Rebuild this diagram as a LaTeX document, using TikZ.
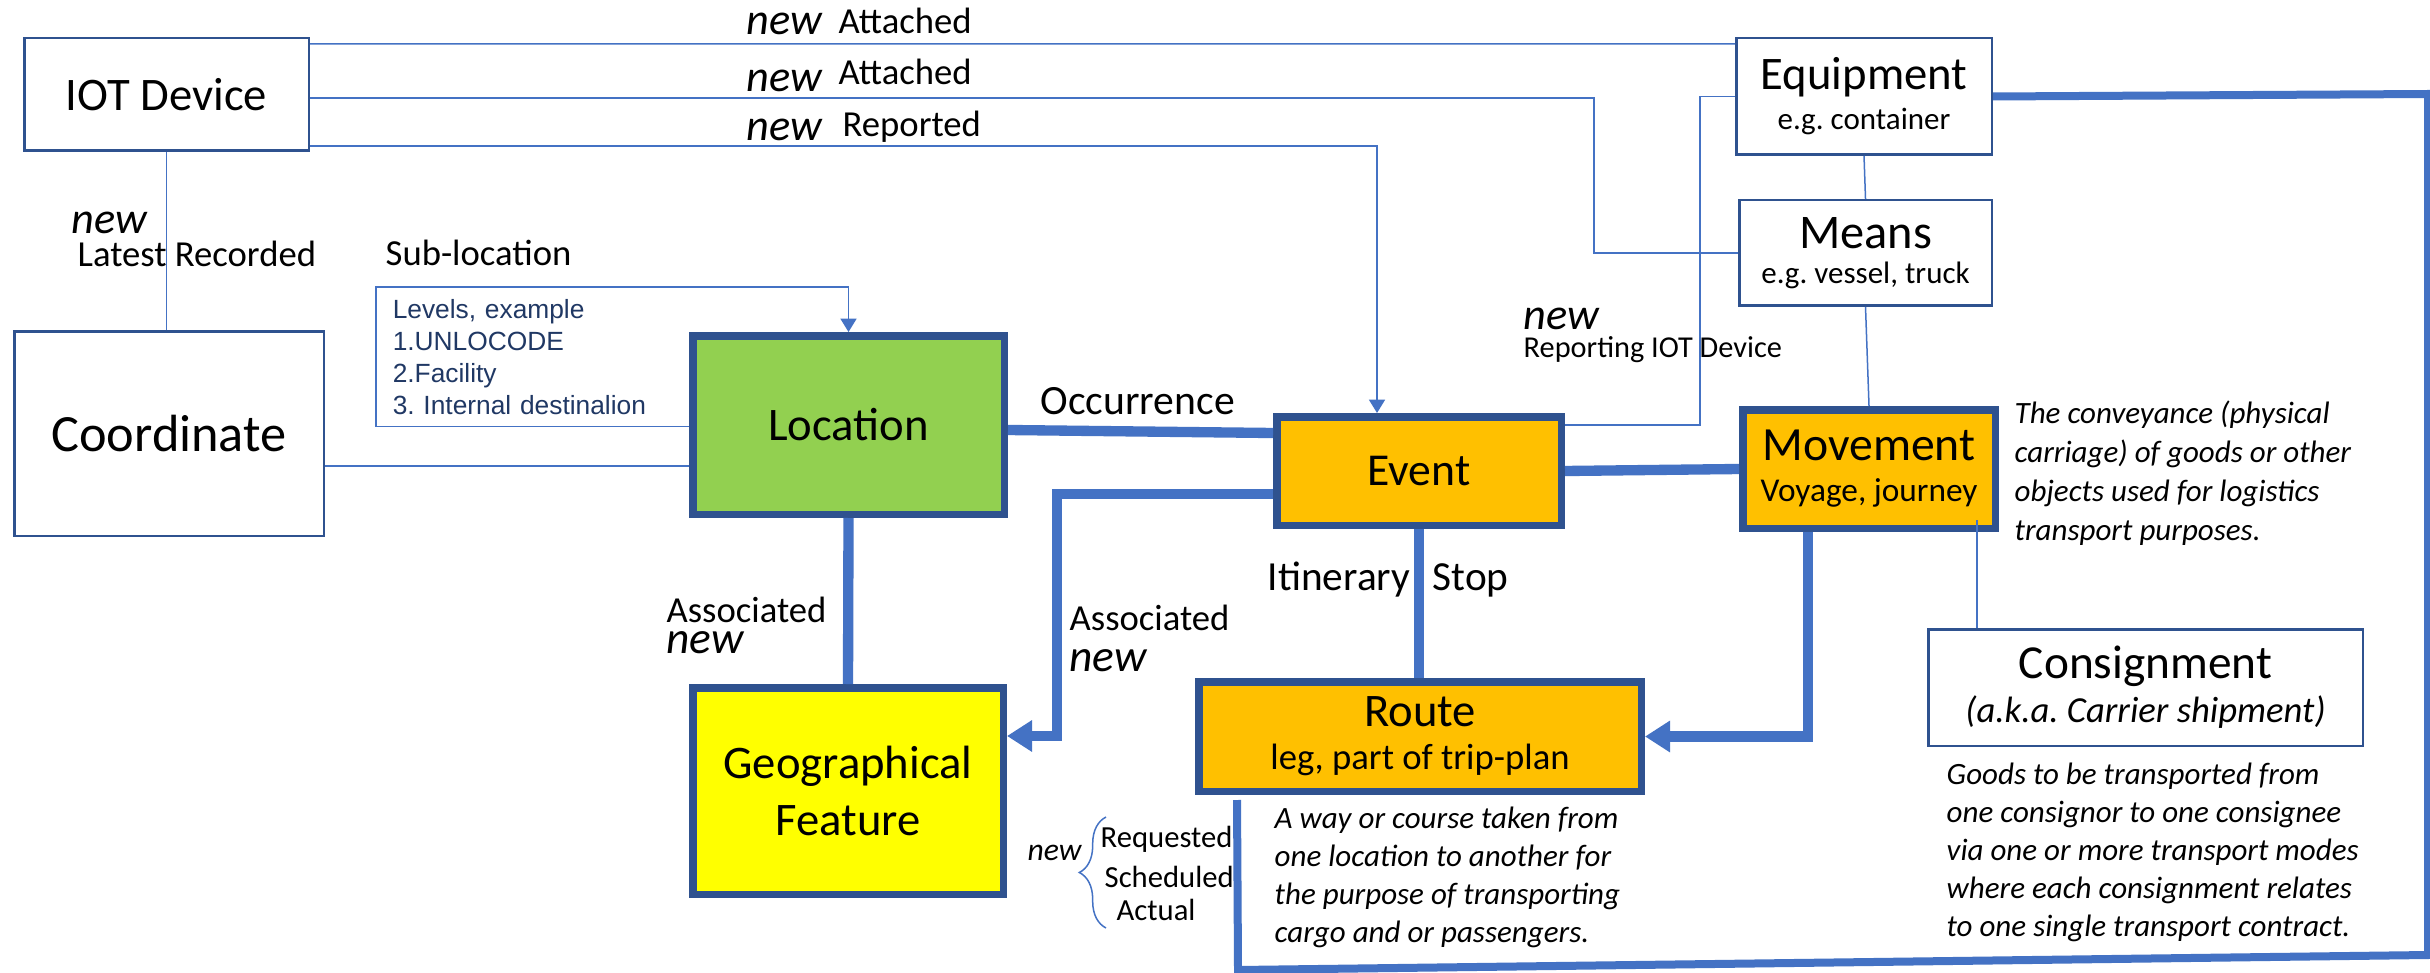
\documentclass[tikz,border=0pt]{standalone}
\usepackage{fontspec}
\setmainfont{Carlito}
\newfontfamily\notefont{Liberation Sans}
\usetikzlibrary{arrows.meta,calc,decorations.pathreplacing}

\definecolor{conn}{HTML}{4472C4}
\definecolor{edge}{HTML}{2F528F}
\definecolor{locgreen}{HTML}{92D050}
\definecolor{amber}{HTML}{FFC000}
\definecolor{geoyellow}{HTML}{FFFF00}
\definecolor{navytext}{HTML}{203864}

\begin{document}
\frenchspacing
\begin{tikzpicture}[x=0.3pt,y=-0.3pt,
  thinbox/.style={draw=edge, line width=0.75pt, fill=white, inner sep=0pt, align=center},
  boldbox/.style={draw=edge, line width=2.25pt, inner sep=0pt, align=center},
  notebox/.style={anchor=north west, line width=0.45pt,
    inner xsep=4.8pt, inner ysep=0pt, text width=84pt, minimum height=41.4pt,
    align=left, text=navytext, font=\notefont\fontsize{7.9pt}{9.6pt}\selectfont},
  thinlink/.style={draw=conn, line width=0.45pt},
  boldlink/.style={draw=conn, line width=3.1pt},
  looplink/.style={draw=conn, line width=2.4pt},
  thintip/.style={-{Triangle[length=4pt,width=4.8pt]}},
  boldtip/.style={-{Triangle[length=7.5pt,width=9pt]}},
  lbl/.style={inner sep=0pt, anchor=base west, font=\fontsize{11pt}{13pt}\selectfont},
  newlbl/.style={inner sep=0pt, anchor=base west, font=\fontsize{13.3pt}{15pt}\selectfont\itshape},
  desc/.style={inner sep=0pt, anchor=north west, align=left},
]
\fill[white] (0,0) rectangle (2430,973);
\useasboundingbox (0,0) rectangle (2430,973);

% ---------- entity boxes ----------
\node[thinbox, minimum width=85.35pt, minimum height=33.75pt,
  font=\fontsize{14pt}{16pt}\selectfont] (iot) at (166.5,94.5) {IOT Device};
\node[thinbox, minimum width=76.65pt, minimum height=34.95pt,
  font=\fontsize{14pt}{12pt}\selectfont] (equip) at (1864,96.5)
  {Equipment\\{\fontsize{9.3pt}{12pt}\selectfont e.g. container}};
\node[thinbox, minimum width=75.75pt, minimum height=31.65pt,
  font=\fontsize{14.5pt}{10.5pt}\selectfont] (means) at (1865.5,253)
  {Means\\{\fontsize{9.3pt}{10.5pt}\selectfont e.g. vessel, truck}};
\node[thinbox, minimum width=92.85pt, minimum height=61.35pt,
  font=\fontsize{15.7pt}{18pt}\selectfont] (coord) at (169,433.5) {Coordinate};

\node[notebox] (subloc) at (376,287)
  {Levels, example\\1.UNLOCODE\\2.Facility\\3. Internal destinalion};

\node[boldbox, fill=locgreen, minimum width=93.45pt, minimum height=53.55pt,
  font=\fontsize{14pt}{16pt}\selectfont] (loc) at (848.5,425) {Location};
\node[boldbox, fill=amber, minimum width=85.35pt, minimum height=32.55pt,
  font=\fontsize{13.7pt}{16pt}\selectfont] (event) at (1419,471) {Event};
\node[boldbox, fill=amber, minimum width=75.75pt, minimum height=35.55pt,
  font=\fontsize{14.3pt}{12.3pt}\selectfont] (move) at (1869,469)
  {Movement\\{\fontsize{10pt}{12.3pt}\selectfont Voyage, journey}};
\node[boldbox, fill=geoyellow, minimum width=93.15pt, minimum height=61.95pt,
  font=\fontsize{14pt}{17pt}\selectfont] (geo) at (848,791) {Geographical\\Feature};
\node[boldbox, fill=amber, minimum width=132.75pt, minimum height=32.85pt,
  font=\fontsize{14pt}{13pt}\selectfont] (route) at (1420,736.5)
  {Route\\{\fontsize{11pt}{13pt}\selectfont leg, part of trip-plan}};
\node[thinbox, minimum width=130.35pt, minimum height=34.95pt,
  font=\fontsize{14.2pt}{13.2pt}\selectfont] (consign) at (2145.5,687.5)
  {Consignment\\{\fontsize{11pt}{13.2pt}\selectfont\itshape (a.k.a. Carrier shipment)}};

% ---------- thin relations ----------
\draw[thinlink] ($(iot.north east)+(0,7)$) -- ($(equip.north west)+(0,7)$);
\coordinate (mbend) at (1594,253);
\draw[thinlink] ($(iot.east)+(0,3.5)$) -| (mbend) -- (means.west);
\draw[thinlink,thintip] ($(iot.south east)+(0,-6)$) -| ($(event.north west)+(104,0)$);
% sub-location frame, open towards the location, its top edge running on as the arrow
\draw[thinlink,thintip] (subloc.south west -| loc.west) -- (subloc.south west)
  -- (subloc.north west) -| (loc.north);
\draw[thinlink] (iot.south) -- (iot.south |- coord.north);
\coordinate (cl) at ($(coord.east)+(0,32.5)$);
\draw[thinlink] (cl) -- (cl -| loc.west);
\draw[thinlink] (equip.south) -- (means.north);
\draw[thinlink] (means.south) -- (move.north);
\draw[thinlink] ($(event.east)+(0,-46)$) -| ($(equip.west)+(-35,0)$) -- (equip.west);
\coordinate (mc) at ($(move.south east)+(-22,-12)$);
\draw[thinlink] (mc) -- (mc |- consign.north);

% ---------- bold relations ----------
\draw[boldlink] ($(loc.east)+(0,5)$) -- ($(event.west)+(0,-38)$);
\draw[boldlink] (event.east) -- (move.west);
\draw[boldlink,boldtip] ($(event.west)+(0,23)$) -- ++(-216,0) |- ($(geo.east)+(0,-55)$);
\draw[boldlink] (loc.south) -- (geo.north);
\draw[boldlink] (event.south) -- (event.south |- route.north);
\draw[boldlink,boldtip] ($(move.south)+(-61,0)$) |- (route.east);

% equipment to route loop
\coordinate (tr) at (2428,94);
\coordinate (br) at (2428,955);
\coordinate (bl) at (1238,970);
\draw[looplink] (equip.east) -- (tr) -- (br) -- (bl) -- ($(route.south west)+(42,5)$);

% ---------- relation labels ----------
\node[newlbl] (n1) at (746,35) {new};
\node[lbl] (att1) at (838,34) {Attached};
\node[newlbl] (n2) at (746,92) {new};
\node[lbl] (att2) at (838,85) {Attached};
\node[newlbl] (n3) at (746,141) {new};
\node[lbl] (rep) at (842,137) {Reported};
\node[newlbl] (n4) at (71,234) {new};
\node[lbl] (latest) at (77,267) {Latest Recorded};
\node[lbl] (sublbl) at (385,266) {Sub-location};
\node[lbl, font=\fontsize{12.5pt}{14pt}\selectfont] (occ) at (1040,414) {Occurrence};
\node[newlbl] (n5) at (1523,329) {new};
\node[lbl, font=\fontsize{9.1pt}{11pt}\selectfont] (repiot) at (1523,358) {Reporting IOT Device};
\node[lbl] (assoc1) at (666,622) {Associated};
\node[newlbl, font=\fontsize{13.6pt}{15pt}\selectfont\itshape] (n6) at (666,653) {new};
\node[lbl] (assoc2) at (1069,630) {Associated};
\node[newlbl, font=\fontsize{13.6pt}{15pt}\selectfont\itshape] (n7) at (1069,671) {new};
\node[lbl, font=\fontsize{12.4pt}{14pt}\selectfont] (itin) at (1267,590) {Itinerary};
\node[lbl, font=\fontsize{12.4pt}{14pt}\selectfont] (stop) at (1432,590) {Stop};

% time qualifiers of a route
\node[newlbl, font=\fontsize{9.5pt}{11pt}\selectfont\itshape] (n8) at (1027,860) {new};
\draw[thinlink, decorate, decoration={brace, amplitude=8pt, aspect=0.5}]
  (1106,928) -- (1106,817);
\node[lbl, font=\fontsize{9.2pt}{11pt}\selectfont] (req) at (1100,847) {Requested};
\node[lbl, font=\fontsize{9.2pt}{11pt}\selectfont] (sched) at (1104,887) {Scheduled};
\node[lbl, font=\fontsize{9.2pt}{11pt}\selectfont] (act) at (1116,920) {Actual};

% ---------- definitions ----------
\node[desc, font=\fontsize{9.3pt}{11.7pt}\selectfont\itshape] (movedesc) at (2014,400)
  {The conveyance (physical\\carriage) of goods or other\\objects used for logistics\\transport purposes.};
\node[desc, font=\fontsize{9.3pt}{11.4pt}\selectfont\itshape] (routedesc) at (1274,806)
  {A way or course taken from\\one location to another for\\the purpose of transporting\\cargo and or passengers.};
\node[desc, font=\fontsize{9.3pt}{11.4pt}\selectfont\itshape] (consdesc) at (1946,762)
  {Goods to be transported from\\one consignor to one consignee\\via one or more transport modes\\where each consignment relates\\to one single transport contract.};
\end{tikzpicture}
\end{document}
